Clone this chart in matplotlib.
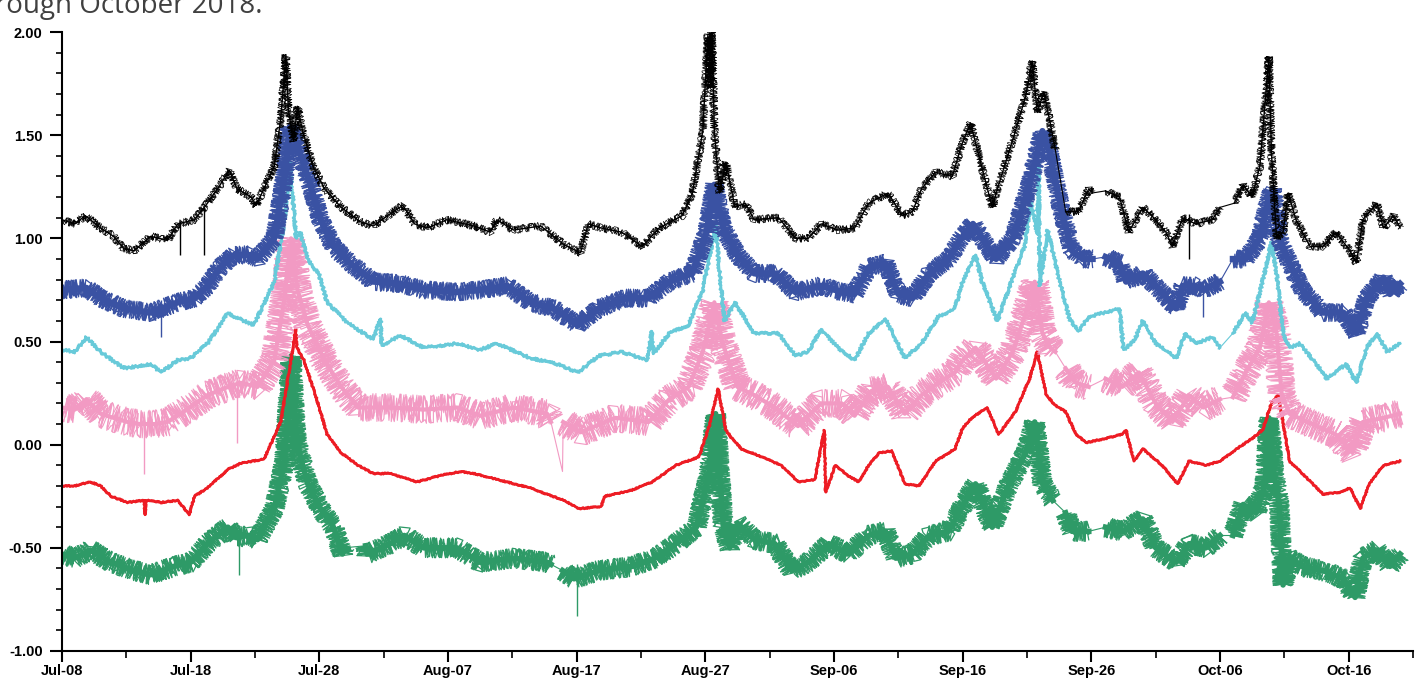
import matplotlib
matplotlib.use("Agg")
import matplotlib.pyplot as plt
import numpy as np

# values; x = days after Jul-08
black_days = [0, 1.0, 1.8, 3.0, 4.0, 4.8, 5.6, 6.9, 8.2, 9.0, 10.3, 11.3, 12.3, 13.0, 13.6, 14.7, 15.1, 16.5,
              17.0, 17.4, 17.6, 18.0, 18.3, 18.7, 19.5, 20.4, 21.7, 23.2, 24.2, 25.3, 26.5, 27.4, 28.4, 29.9,
              32.0, 33.3, 33.8, 35.1, 37.2, 39.0, 40.3, 40.9, 41.9, 43.5, 45.1, 46.4, 48.2, 49.0, 49.8, 50.2,
              50.4, 50.5, 50.7, 51.1, 51.6, 52.3, 53.1, 53.8, 55.7, 57.0, 58.0, 59.0, 60.3, 61.6, 62.7, 64.2,
              65.3, 66.1, 66.8, 67.9, 69.2, 69.9, 70.6, 71.3, 72.3, 72.8, 74.1, 74.9, 75.4, 75.8, 76.3, 76.8,
              77.2, 78.0, 79.0, 79.8, 80.1, 81.1, 82.2, 82.9, 84.0, 84.7, 85.8, 86.3, 87.1, 88.1, 89.4, 90.0,
              91.1, 91.8, 92.5, 93.1, 93.6, 93.8, 94.0, 94.4, 94.9, 95.3, 95.9, 97.0, 98.0, 99.0, 100.1, 100.6,
              101.1, 102.2, 102.7, 103.5, 104.0]
black_vals = [1.09, 1.07, 1.11, 1.05, 1.01, 0.95, 0.94, 1.01, 0.99, 1.07, 1.09, 1.17, 1.26, 1.33, 1.24, 1.20, 1.16, 1.35,
              1.58, 1.89, 1.62, 1.47, 1.64, 1.52, 1.35, 1.24, 1.15, 1.08, 1.06, 1.11, 1.16, 1.07, 1.05, 1.09,
              1.06, 1.03, 1.09, 1.04, 1.06, 0.97, 0.93, 1.07, 1.05, 1.03, 0.96, 1.05, 1.11, 1.22, 1.52, 1.99,
              1.73, 2.07, 1.52, 1.22, 1.37, 1.15, 1.17, 1.09, 1.10, 1.00, 1.00, 1.07, 1.04, 1.05, 1.17, 1.22,
              1.11, 1.13, 1.24, 1.32, 1.30, 1.45, 1.56, 1.39, 1.15, 1.26, 1.52, 1.69, 1.86, 1.61, 1.71, 1.56,
              1.43, 1.13, 1.13, 1.24, 1.22, 1.23, 1.20, 1.03, 1.15, 1.11, 1.03, 0.96, 1.10, 1.07, 1.09, 1.15,
              1.17, 1.26, 1.20, 1.35, 1.73, 1.88, 1.41, 1.00, 1.03, 1.22, 1.09, 0.96, 0.96, 1.03, 0.94, 0.88,
              1.09, 1.17, 1.05, 1.11, 1.05]

blue_days = [0, 1.9, 3.0, 4.8, 6.9, 9.0, 10.3, 11.3, 12.3, 13.4, 14.5, 15.2, 16.5, 17.3, 17.7, 18.3, 19.1, 20.1,
             21.1, 22.4, 24.2, 26.3, 28.1, 30.7, 32.5, 34.6, 36.4, 38.2, 40.1, 41.7, 43.8, 45.6, 47.2, 49.0,
             50.1, 50.7, 51.4, 52.5, 53.8, 55.4, 57.0, 59.0, 60.6, 61.6, 62.7, 64.0, 65.0, 66.1, 67.4, 68.9,
             69.9, 70.8, 71.5, 72.6, 73.9, 75.2, 76.2, 76.7, 77.7, 78.5, 79.3, 80.1, 81.1, 82.2, 82.7, 84.0,
             85.3, 86.6, 87.1, 88.1, 88.7, 90.0, 91.0, 92.0, 93.1, 93.7, 94.1, 94.6, 95.4, 96.4, 98.0, 99.6,
             100.6, 101.4, 102.7, 103.2, 104.0]
blue_vals = [0.75, 0.76, 0.71, 0.66, 0.64, 0.69, 0.71, 0.77, 0.86, 0.92, 0.92, 0.90, 1.00, 1.30, 1.54, 1.45, 1.30, 1.09,
             0.96, 0.88, 0.79, 0.78, 0.75, 0.74, 0.75, 0.77, 0.69, 0.66, 0.58, 0.66, 0.71, 0.71, 0.79, 0.83,
             1.03, 1.26, 1.05, 0.92, 0.83, 0.83, 0.74, 0.77, 0.74, 0.73, 0.86, 0.88, 0.73, 0.71, 0.83, 0.90,
             1.00, 1.07, 1.00, 0.90, 1.00, 1.26, 1.52, 1.43, 1.13, 0.94, 0.90, 0.90, 0.91, 0.88, 0.79, 0.83,
             0.75, 0.66, 0.77, 0.77, 0.75, 0.79, 0.90, 0.90, 1.00, 1.17, 1.24, 1.00, 0.88, 0.75, 0.64, 0.64,
             0.54, 0.71, 0.81, 0.73, 0.78]

cyan_days = [0, 1.0, 1.9, 3.0, 4.8, 6.9, 7.7, 9.0, 10.0, 11.3, 12.3, 12.9, 13.4, 14.9, 16.5, 17.3, 17.7, 18.2,
             18.5, 19.1, 20.0, 20.6, 22.2, 24.2, 24.75, 24.85, 26.3, 28.1, 30.7, 32.5, 33.8, 36.4, 38.5, 40.1,
             41.7, 43.5, 45.5, 45.85, 45.95, 47.2, 48.7, 49.8, 50.6, 50.8, 51.1, 51.5, 52.3, 53.8, 55.7, 57.0,
             58.0, 59.0, 60.3, 61.6, 62.7, 64.0, 65.5, 66.8, 68.1, 69.4, 70.0, 71.0, 71.5, 72.7, 73.9, 74.8,
             75.3, 75.8, 75.9, 76.0, 76.6, 77.5, 78.3, 79.0, 79.8, 82.2, 82.5, 83.3, 84.0, 85.0, 86.6, 87.3,
             88.1, 89.4, 90.0, 91.0, 92.0, 92.5, 93.3, 94.0, 94.4, 94.9, 95.4, 96.2, 97.5, 98.3, 99.8, 100.6,
             101.4, 102.2, 103.0, 104.0]
cyan_vals = [0.46, 0.45, 0.52, 0.45, 0.37, 0.39, 0.35, 0.41, 0.42, 0.49, 0.58, 0.64, 0.62, 0.58, 0.79, 1.09, 1.37, 1.00,
             1.03, 0.90, 0.82, 0.69, 0.59, 0.51, 0.61, 0.48, 0.53, 0.47, 0.49, 0.46, 0.49, 0.42, 0.39, 0.35,
             0.43, 0.45, 0.41, 0.55, 0.44, 0.54, 0.58, 0.75, 1.00, 1.07, 0.83, 0.60, 0.69, 0.54, 0.54, 0.43,
             0.45, 0.56, 0.47, 0.41, 0.54, 0.61, 0.42, 0.49, 0.62, 0.66, 0.79, 0.92, 0.79, 0.60, 0.81, 0.96,
             1.18, 1.02, 1.37, 0.77, 1.04, 0.80, 0.61, 0.55, 0.62, 0.66, 0.46, 0.50, 0.60, 0.49, 0.42, 0.54,
             0.49, 0.52, 0.47, 0.54, 0.64, 0.59, 0.79, 0.98, 0.83, 0.54, 0.47, 0.49, 0.39, 0.32, 0.39, 0.30,
             0.47, 0.54, 0.45, 0.49]

pink_days = [0, 1.0, 1.9, 3.0, 4.0, 5.1, 6.0, 7.2, 8.2, 9.7, 11.3, 12.9, 13.9, 15.2,
             16.5, 17.3, 17.8, 18.3, 19.1, 20.4, 21.7, 23.0, 25.5, 28.1, 30.7, 32.5, 35.1, 37.7, 38.0, 38.9,
             38.95, 40.3, 43.0, 45.6, 47.2, 48.7, 49.8, 50.7, 51.3, 52.5, 53.8, 55.4, 57.2, 59.0, 60.6, 61.6,
             62.9, 64.2, 65.5, 66.8, 68.1, 69.4, 70.0, 71.0, 72.6, 73.9, 74.8, 75.6, 76.2, 76.8, 77.2, 78.0,
             78.8, 79.8, 81.1, 82.4, 83.7, 85.0, 86.3, 87.6, 88.7, 90.0, 91.0, 92.0, 93.1, 93.8, 94.4, 94.8,
             95.4, 97.5, 99.0, 100.3, 101.1, 102.7, 104.0]
pink_vals = [0.18, 0.17, 0.22, 0.15, 0.13, 0.11, 0.10, 0.10, 0.11, 0.17, 0.24, 0.28, 0.30, 0.28,
             0.41, 0.71, 1.00, 0.75, 0.58, 0.41, 0.28, 0.18, 0.18, 0.17, 0.18, 0.14, 0.18, 0.15, 0.11, -0.13,
             0.11, 0.06, 0.13, 0.11, 0.22, 0.28, 0.45, 0.69, 0.50, 0.28, 0.24, 0.18, 0.09, 0.20, 0.20, 0.14,
             0.26, 0.28, 0.15, 0.24, 0.30, 0.35, 0.41, 0.47, 0.32, 0.45, 0.62, 0.79, 0.54, 0.47, 0.45, 0.37,
             0.30, 0.28, 0.32, 0.28, 0.35, 0.20, 0.11, 0.24, 0.18, 0.22, 0.23, 0.35, 0.47, 0.69, 0.54, 0.24,
             0.15, 0.09, 0.05, -0.04, 0.11, 0.13, 0.15]

red_days = [0, 1.0, 2.2, 3.0, 3.8, 5.1, 6.4, 6.45, 6.55, 7.7, 9.0, 9.9, 10.3, 11.3, 12.9, 13.9, 15.7, 17.0,
            17.8, 18.15, 18.25, 18.8, 19.8, 20.6, 21.7, 23.0, 24.2, 25.5, 27.6, 29.4, 31.0, 32.0, 33.3, 36.4,
            37.7, 39.0, 40.2, 41.9, 42.2, 44.3, 45.9, 47.7, 49.5, 50.3, 51.0, 51.6, 52.2, 52.8, 54.4, 55.9,
            57.2, 58.5, 59.25, 59.35, 60.1, 61.1, 61.9, 62.7, 63.5, 64.5, 65.5, 66.6, 67.9, 69.4, 70.0, 70.7,
            71.9, 72.8, 74.1, 75.2, 75.8, 76.5, 77.2, 78.0, 78.8, 79.6, 81.1, 82.4, 82.7, 83.3, 84.0, 85.5,
            86.7, 87.6, 88.9, 90.0, 91.3, 92.5, 93.3, 94.0, 94.5, 94.9, 95.4, 96.4, 98.0, 99.3, 100.1, 100.9,
            101.6, 102.7, 104.0]
red_vals = [-0.20, -0.20, -0.18, -0.20, -0.25, -0.28, -0.27, -0.34, -0.27, -0.28, -0.27, -0.34, -0.25, -0.21, -0.12, -0.09, -0.07, 0.11,
            0.41, 0.56, 0.47, 0.41, 0.22, 0.05, -0.04, -0.10, -0.14, -0.14, -0.18, -0.15, -0.13, -0.14, -0.16, -0.21,
            -0.24, -0.27, -0.31, -0.30, -0.25, -0.22, -0.18, -0.10, -0.06, 0.09, 0.27, 0.07, 0.02, -0.02, -0.06, -0.10,
            -0.18, -0.17, 0.07, -0.23, -0.10, -0.15, -0.18, -0.10, -0.04, -0.03, -0.19, -0.20, -0.08, -0.02, 0.08, 0.13,
            0.18, 0.05, 0.16, 0.32, 0.45, 0.24, 0.19, 0.16, 0.05, 0.01, 0.03, 0.05, 0.07, -0.08, -0.02, -0.10,
            -0.19, -0.08, -0.10, -0.08, -0.02, 0.03, 0.07, 0.20, 0.24, 0.11, -0.08, -0.14, -0.24, -0.23, -0.21, -0.31,
            -0.19, -0.10, -0.08]

green_days = [0, 1.0, 2.2, 3.8, 5.6, 6.9, 8.7, 10.0, 11.3, 12.9, 13.5, 14.5, 15.2, 16.5, 17.3, 17.8, 18.2,
              18.7, 19.1, 20.1, 21.1, 21.8, 21.9, 23.6, 23.7, 25.5, 26.6, 28.1, 30.7, 32.5, 35.1, 37.7, 38.0,
              38.9, 39.8, 41.7, 44.3, 46.1, 47.7, 49.3, 50.3, 50.8, 51.4, 51.9, 52.5, 53.8, 55.4,
              56.7, 58.0, 59.6, 61.1, 62.7, 64.0, 64.8, 66.1, 67.4, 68.9, 69.9, 71.0, 72.3, 73.6, 74.9, 75.6,
              76.2, 77.0, 78.0, 78.5, 79.8, 81.1, 82.4, 84.0, 85.0, 86.6, 87.6, 88.9, 90.0, 91.0, 91.8, 92.8,
              93.5, 93.8, 94.2, 94.6, 94.9, 95.4, 96.4, 98.0, 99.6, 100.5, 101.1, 102.2, 103.2, 104.0]
green_vals = [-0.53, -0.55, -0.51, -0.57, -0.61, -0.63, -0.59, -0.57, -0.48, -0.40, -0.45, -0.44, -0.46, -0.31, -0.08, 0.43, 0.03,
              -0.10, -0.19, -0.31, -0.40, -0.53, -0.50, -0.49, -0.53, -0.48, -0.44, -0.50, -0.50, -0.57, -0.55, -0.57, -0.58,
              -0.61, -0.65, -0.61, -0.59, -0.55, -0.48, -0.40, -0.14, 0.15, -0.40, -0.50, -0.38, -0.46, -0.48,
              -0.61, -0.57, -0.48, -0.53, -0.44, -0.42, -0.55, -0.53, -0.44, -0.42, -0.31, -0.19, -0.40, -0.19, -0.04, 0.11,
              -0.19, -0.27, -0.33, -0.42, -0.42, -0.40, -0.42, -0.36, -0.50, -0.57, -0.48, -0.50, -0.44, -0.44, -0.29, -0.33,
              -0.19, 0.13, -0.14, -0.29, -0.68, -0.55, -0.59, -0.61, -0.65, -0.74, -0.55, -0.51, -0.59, -0.53]

# single-reading spikes: day, low, high
black_spike_days = [9.2, 11.0, 87.6]
black_spike_lo = [0.92, 0.92, 0.90]
black_spike_hi = [1.08, 1.15, 1.12]
blue_spike_days = [7.7, 88.7]
blue_spike_lo = [0.52, 0.62]
blue_spike_hi = [0.70, 0.78]
pink_spike_days = [6.4, 13.6]
pink_spike_lo = [-0.14, 0.01]
pink_spike_hi = [0.12, 0.28]
green_spike_days = [13.75, 40.0]
green_spike_lo = [-0.63, -0.83]
green_spike_hi = [-0.42, -0.58]

# logger outages, drawn as plain straight connectors
black_gaps = [(77.2, 78.0), (80.1, 81.1), (90.0, 91.1)]
blue_gaps = [(80.1, 81.1), (90.0, 91.0)]
cyan_gaps = [(90.0, 91.0)]
pink_gaps = [(38.0, 38.95), (77.2, 78.0), (79.8, 81.1), (90.0, 91.0)]
red_gaps = []
green_gaps = [(21.9, 23.6), (38.0, 38.9), (77.0, 78.0), (79.8, 81.1), (90.0, 91.0)]

tick_days = [0, 10, 20, 30, 40, 50, 60, 70, 80, 90, 100]
tick_labels = ['Jul-08', 'Jul-18', 'Jul-28', 'Aug-07', 'Aug-17', 'Aug-27',
               'Sep-06', 'Sep-16', 'Sep-26', 'Oct-06', 'Oct-16']


def split_gaps(days, vals, gaps):
    days = np.asarray(days, float)
    vals = np.asarray(vals, float)
    segs, links = [], []
    start = 0
    for a, b in gaps:
        i = np.searchsorted(days, a - 1e-9)   # index of knot a
        j = np.searchsorted(days, b - 1e-9)   # index of knot b
        segs.append((days[start:i + 1], vals[start:i + 1]))
        links.append((days[i:j + 1], vals[i:j + 1]))
        start = j
    segs.append((days[start:], vals[start:]))
    return segs, links


# jitter passes (wavelength px, randomness) - several passes give the dense logger noise
passes = [(2.0, 4.0), (3.1, 6.0), (4.3, 9.0), (1.3, 3.0)]

series = [
    # days, vals, gaps, spikes, color, core width, jitter width, jitter amplitude px, passes
    (green_days, green_vals, green_gaps, (green_spike_days, green_spike_lo, green_spike_hi), '#2e9a67', 4.0, 0.9, 10.0, 4),
    (red_days, red_vals, red_gaps, None, '#ed1c24', 1.8, 1.8, 0.8, 1),
    (pink_days, pink_vals, pink_gaps, (pink_spike_days, pink_spike_lo, pink_spike_hi), '#f29ac3', 3.0, 0.8, 14.0, 3),
    (cyan_days, cyan_vals, cyan_gaps, None, '#68cad9', 1.8, 1.8, 1.5, 1),
    (blue_days, blue_vals, blue_gaps, (blue_spike_days, blue_spike_lo, blue_spike_hi), '#3a52a3', 4.5, 0.9, 9.0, 4),
    (black_days, black_vals, black_gaps, (black_spike_days, black_spike_lo, black_spike_hi), '#000000', 1.0, 0.5, 4.0, 3),
]

fig = plt.figure(figsize=(14.18, 6.88), dpi=100)
ax = fig.add_axes([62 / 1418, 1 - 651 / 688, 1351 / 1418, 619 / 688])

for days, vals, gaps, spikes, color, core, lw, amp, npass in series:
    segs, links = split_gaps(days, vals, gaps)
    for x, y in segs:
        ax.plot(x, y, color=color, lw=core)
        for length, rnd in passes[:npass]:
            line, = ax.plot(x, y, color=color, lw=lw)
            line.set_sketch_params(amp, length, rnd)
    for x, y in links:
        ax.plot(x, y, color=color, lw=0.8)
    if spikes is not None:
        ax.vlines(spikes[0], spikes[1], spikes[2], color=color, lw=1.0)

ax.set_xlim(0, 105)
ax.set_ylim(-1.0, 2.0)
ax.set_xticks(tick_days)
ax.set_xticklabels(tick_labels)
ax.set_xticks(np.arange(5, 106, 10), minor=True)
ax.set_yticks(np.arange(-1.0, 2.01, 0.5))
ax.set_yticklabels(['%.2f' % v for v in np.arange(-1.0, 2.01, 0.5)])
ax.set_yticks(np.arange(-1.0, 2.01, 0.1), minor=True)

for s in ['top', 'right']:
    ax.spines[s].set_visible(False)
for s in ['left', 'bottom']:
    ax.spines[s].set_linewidth(1.5)

ax.tick_params(axis='y', which='major', length=9, width=1.5, pad=5)
ax.tick_params(axis='y', which='minor', length=4, width=1.2)
ax.tick_params(axis='x', which='major', length=8, width=1.5, pad=1.5)
ax.tick_params(axis='x', which='minor', length=5, width=1.2)
for lab in ax.get_xticklabels() + ax.get_yticklabels():
    lab.set_fontfamily('Liberation Sans')
    lab.set_fontweight('bold')
    lab.set_fontsize(10.5)

fig.text(263 / 1418, 1 - 13 / 688, 'through October 2018.', ha='right', va='baseline',
         fontsize=20, color='#404040', family='Open Sans')

fig.savefig('out.png', dpi=100)
